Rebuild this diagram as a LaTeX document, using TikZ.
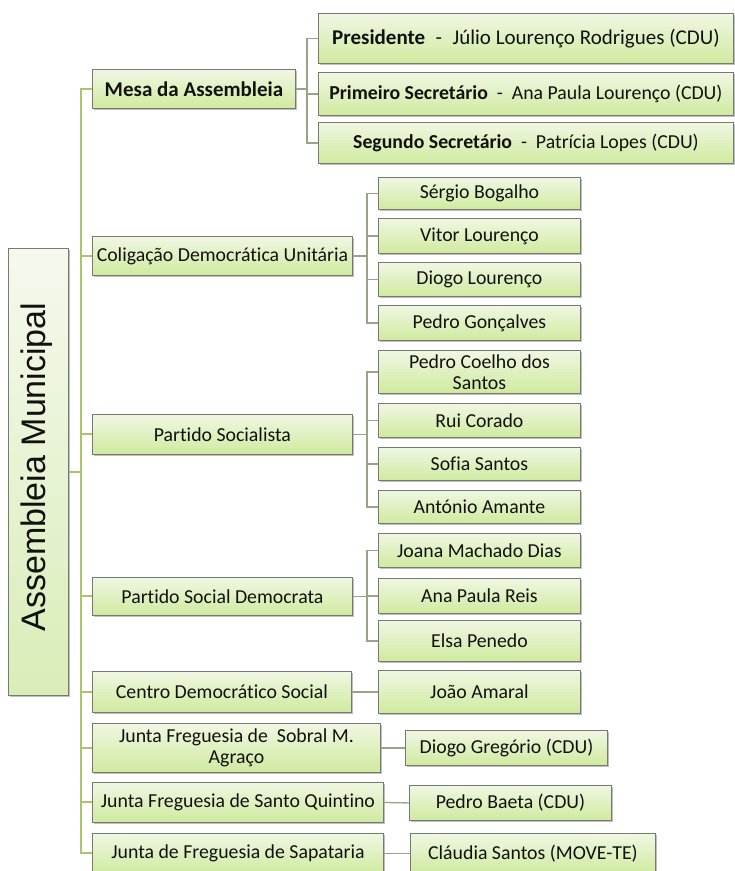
\documentclass[tikz,border=0pt]{standalone}
\usepackage{fontspec}
\setmainfont{Carlito}[Ligatures={NoCommon}]
\newfontfamily\rootfont{Liberation Sans}
\usetikzlibrary{shadows,calc}
\definecolor{boxtop}{HTML}{F0F7E3}
\definecolor{boxbot}{HTML}{CFEA9E}
\definecolor{roottop}{HTML}{F5F9EE}
\definecolor{rootbot}{HTML}{D9EDB8}
\definecolor{boxline}{HTML}{777A70}
\definecolor{trunkcol}{HTML}{A8C66C}
\definecolor{linkcol}{HTML}{97A487}
\definecolor{txt}{HTML}{111111}
\tikzset{
  box/.style={draw=boxline, line width=0.9pt, top color=boxtop, bottom color=boxbot,
    inner sep=0pt, anchor=north west, align=center, text=txt,
    font=\fontsize{19.8}{21}\selectfont,
    drop shadow={shadow xshift=1.6pt, shadow yshift=-1.8pt, fill=black!45, opacity=0.55}},
  bigtext/.style={font=\fontsize{21}{23}\selectfont},
  rootbox/.style={draw=boxline, line width=0.9pt, top color=roottop, bottom color=rootbot,
    inner sep=0pt, anchor=north west, text=txt,
    drop shadow={shadow xshift=1.6pt, shadow yshift=-1.8pt, fill=black!45, opacity=0.55}},
  trunk/.style={draw=trunkcol, line width=2pt},
  link/.style={draw=linkcol, line width=1.3pt},
}
\newcommand{\bx}[7][]{\node[box, #1, minimum width={(#5-#3)*1pt}, minimum height={(#6-#4)*1pt}] (#2) at (#3,#4) {#7};}
\newcommand{\dsep}[1]{\hspace{#1}-\hspace{#1}}
\begin{document}
\begin{tikzpicture}[x=1pt,y=-1pt]
\clip (0,0) rectangle (735,871);
\fill[white] (0,0) rectangle (735,871);
% root
\node[rootbox, minimum width=60pt, minimum height=447pt] (root) at (8,248) {};
\node[rotate=90, font=\rootfont\fontsize{34}{36}\selectfont, text=txt] (roottext) at (37,467) {Assembleia Municipal};
% level 1
\bx[bigtext]{mesa}{92}{69}{295}{108}{\textbf{Mesa da Assembleia}}
\bx{cdu}{92}{236}{352}{275}{Coligação Democrática Unitária}
\bx{ps}{92}{414}{352}{454}{Partido Socialista}
\bx{psd}{92}{577}{352}{615}{Partido Social Democrata}
\bx{cds}{92}{671}{351}{712}{Centro Democrático Social}
\bx{sobral}{92}{723}{380}{772}{Junta Freguesia de\ \ Sobral M.\\Agraço}
\bx{quintino}{92}{782}{383}{822}{Junta Freguesia de Santo Quintino}
\bx{sapataria}{92}{833}{383}{873}{Junta de Freguesia de Sapataria}
% mesa children
\bx[bigtext]{pres}{318}{13}{733}{63}{\textbf{Presidente}\dsep{0.5em}Júlio Lourenço Rodrigues (CDU)}
\bx{prim}{318}{72}{733}{115}{\textbf{Primeiro Secretário}\dsep{0.45em}Ana Paula Lourenço (CDU)}
\bx{seg}{318}{122}{733}{163}{\textbf{Segundo Secretário}\dsep{0.45em}Patrícia Lopes (CDU)}
% cdu children
\bx{sergio}{378}{177}{580}{209}{Sérgio Bogalho}
\bx{vitor}{378}{218}{580}{253}{Vitor Lourenço}
\bx{diogol}{378}{262}{580}{296}{Diogo Lourenço}
\bx{pedrog}{378}{305}{580}{340}{Pedro Gonçalves}
% ps children
\bx{pedroc}{378}{350}{580}{393}{Pedro Coelho dos\\Santos}
\bx{rui}{378}{403}{580}{437}{Rui Corado}
\bx{sofia}{378}{447}{580}{480}{Sofia Santos}
\bx{antonio}{378}{490}{580}{523}{António Amante}
% psd children
\bx{joana}{378}{533}{580}{567}{Joana Machado Dias}
\bx{anareis}{378}{578}{580}{613}{Ana Paula Reis}
\bx{elsa}{378}{620}{580}{661}{Elsa Penedo}
% single children
\bx{joao}{378}{670}{580}{713}{João Amaral}
\bx{diogog}{405}{730}{607}{765}{Diogo Gregório (CDU)}
\bx{baeta}{409}{785}{611}{820}{Pedro Baeta (CDU)}
\bx{claudia}{410}{833}{655}{873}{Cláudia Santos (MOVE-TE)}
% trunk
\coordinate (tk) at ($(root.east)+(12,0)$);
\foreach \n in {mesa,cdu,ps,psd,cds,sobral,quintino,sapataria}{
  \draw[trunk] (root.east) -- (tk) |- (\n.west);
}
% links
\coordinate (hm) at ($(mesa.east)+(11,0)$);
\foreach \n in {pres,prim,seg}{ \draw[link] (mesa.east) -- (hm) |- (\n.west); }
\coordinate (hc) at ($(cdu.east)+(14,0)$);
\foreach \n in {sergio,vitor,diogol,pedrog}{ \draw[link] (cdu.east) -- (hc) |- (\n.west); }
\coordinate (hp) at ($(ps.east)+(14,0)$);
\foreach \n in {pedroc,rui,sofia,antonio}{ \draw[link] (ps.east) -- (hp) |- (\n.west); }
\coordinate (hd) at ($(psd.east)+(14,0)$);
\foreach \n in {joana,anareis,elsa}{ \draw[link] (psd.east) -- (hd) |- (\n.west); }
\draw[link] (cds.east) -- (joao.west);
\draw[link] (sobral.east) -- (diogog.west);
\draw[link] (quintino.east) -- (baeta.west);
\draw[link] (sapataria.east) -- (claudia.west);
\end{tikzpicture}
\end{document}
